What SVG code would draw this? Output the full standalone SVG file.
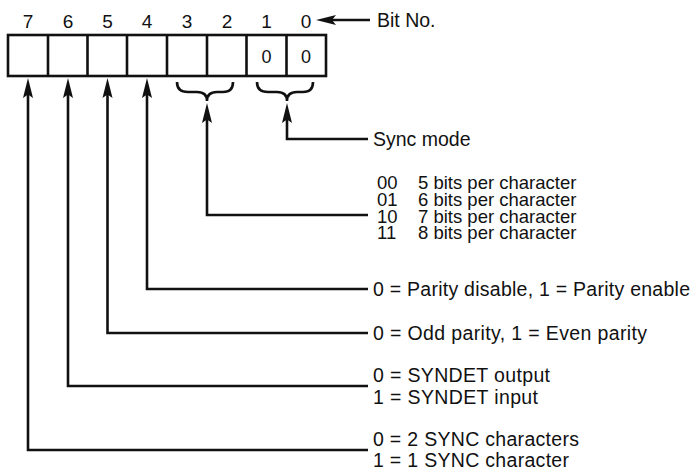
<svg xmlns="http://www.w3.org/2000/svg" width="699" height="476" viewBox="0 0 699 476">
<style>
text{font-family:"Liberation Sans",Arial,sans-serif;font-size:19.5px;fill:#111}
.num{text-anchor:middle;font-size:19px}
.cell{text-anchor:middle;font-size:18px}
.bits{font-size:18.5px}
.box{fill:#fff;stroke:#111;stroke-width:2.6}
.ln{fill:none;stroke:#111;stroke-width:2.6}
.ah{fill:#111}
</style>
<defs>
<path id="upArrow" d="M0,0 L-5,20 L0,16.5 L5,20 Z"/>
</defs>
<rect width="699" height="476" fill="#fff"/>
<g id="bitnumbers">
<text class="num" x="28" y="28">7</text>
<text class="num" x="68" y="28">6</text>
<text class="num" x="107.5" y="28">5</text>
<text class="num" x="147" y="28">4</text>
<text class="num" x="187" y="28">3</text>
<text class="num" x="227" y="28">2</text>
<text class="num" x="266.5" y="28">1</text>
<text class="num" x="306" y="28">0</text>
</g>
<g id="register">
<rect class="box" x="8" y="35" width="318" height="41"/>
<path class="ln" d="M48,35V76M87.5,35V76M127,35V76M167,35V76M207,35V76M246.5,35V76M286.5,35V76"/>
<text class="cell" x="266.5" y="63">0</text>
<text class="cell" x="306" y="63">0</text>
</g>
<g id="bitno-label">
<text x="377" y="27">Bit No.</text>
</g>
<g id="sync-mode"><text x="373" y="146">Sync mode</text></g>
<g id="char-length" class="bits">
<text class="bits" x="377" y="189">00</text><text class="bits" x="418" y="189">5 bits per character</text>
<text class="bits" x="377" y="205.5">01</text><text class="bits" x="418" y="205.5">6 bits per character</text>
<text class="bits" x="377" y="222.5">10</text><text class="bits" x="418" y="222.5">7 bits per character</text>
<text class="bits" x="377" y="239">11</text><text class="bits" x="418" y="239">8 bits per character</text>
</g>
<g id="parity-enable"><text x="373" y="296" textLength="317" lengthAdjust="spacing">0 = Parity disable, 1 = Parity enable</text></g>
<g id="parity-type"><text x="373" y="340" textLength="274" lengthAdjust="spacing">0 = Odd parity, 1 = Even parity</text></g>
<g id="syndet">
<text x="373" y="382" textLength="177" lengthAdjust="spacing">0 = SYNDET output</text>
<text x="373" y="404" textLength="165" lengthAdjust="spacing">1 = SYNDET input</text>
</g>
<g id="sync-chars">
<text x="373" y="446" textLength="206" lengthAdjust="spacing">0 = 2 SYNC characters</text>
<text x="373" y="467" textLength="196" lengthAdjust="spacing">1 = 1 SYNC character</text>
</g>
<g id="connectors">
<path class="ln" d="M370,20H326"/>
<path class="ah" d="M316,20 L336,15 L332,20 L336,25 Z"/>
<path class="ln" d="M177,82 Q177,92 188,92 L197,92 Q207,92 207,101 Q207,92 217,92 L223,92 Q233,92 233,82"/>
<path class="ln" d="M257,82 Q257,92 268,92 L277,92 Q287,92 287,101 Q287,92 297,92 L303,92 Q313,92 313,82"/>
<path class="ln" d="M287,118V139H368"/>
<use href="#upArrow" x="287" y="103" class="ah"/>
<path class="ln" d="M207,118V215H368"/>
<use href="#upArrow" x="207" y="103" class="ah"/>
<path class="ln" d="M147,94V289H368"/>
<use href="#upArrow" x="147" y="78" class="ah"/>
<path class="ln" d="M107.5,94V333H368"/>
<use href="#upArrow" x="107.5" y="78" class="ah"/>
<path class="ln" d="M68,94V386H368"/>
<use href="#upArrow" x="68" y="78" class="ah"/>
<path class="ln" d="M28,94V450H368"/>
<use href="#upArrow" x="28" y="78" class="ah"/>
</g>
</svg>
